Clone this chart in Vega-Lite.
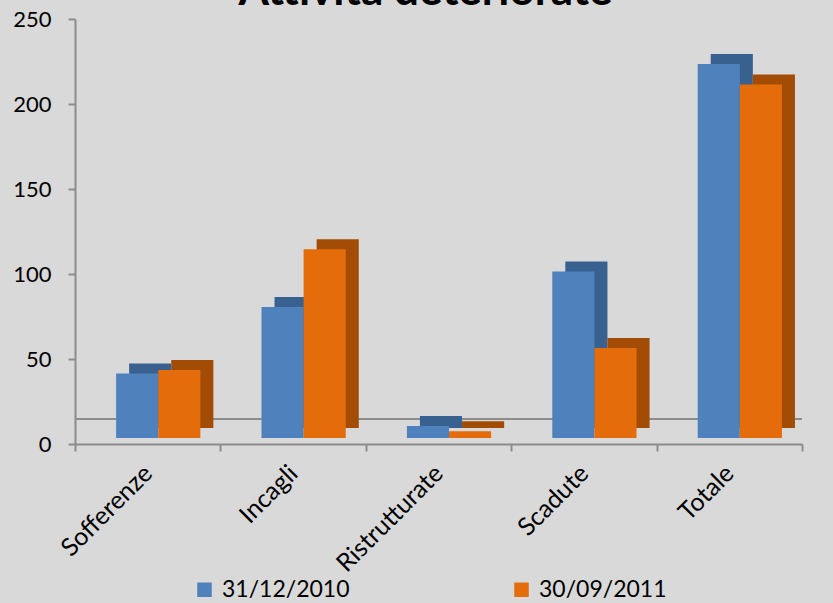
{
  "$schema": "https://vega.github.io/schema/vega-lite/v6.json",
  "width": 727,
  "height": 425,
  "autosize": "none",
  "padding": {"left": 75, "top": 19, "right": 31, "bottom": 159},
  "background": "#D9D9D9",
  "config": {"view": {"stroke": null}, "font": "Lato"},
  "data": {"values": [
    {"categoria": "Sofferenze", "serie": "31/12/2010", "valore": 38},
    {"categoria": "Sofferenze", "serie": "30/09/2011", "valore": 40},
    {"categoria": "Incagli", "serie": "31/12/2010", "valore": 77},
    {"categoria": "Incagli", "serie": "30/09/2011", "valore": 111},
    {"categoria": "Ristrutturate", "serie": "31/12/2010", "valore": 7},
    {"categoria": "Ristrutturate", "serie": "30/09/2011", "valore": 4},
    {"categoria": "Scadute", "serie": "31/12/2010", "valore": 98},
    {"categoria": "Scadute", "serie": "30/09/2011", "valore": 53},
    {"categoria": "Totale", "serie": "31/12/2010", "valore": 220},
    {"categoria": "Totale", "serie": "30/09/2011", "valore": 208}
  ]},
  "layer": [
    {
      "data": {"values": [{"v": 0}]},
      "mark": {"type": "rule", "yOffset": -25, "color": "#8C8C8C", "strokeWidth": 2},
      "encoding": {"y": {"field": "v", "type": "quantitative", "scale": {"domain": [0, 250], "nice": false}}}
    },
    {
      "mark": {"type": "bar", "yOffset": -16},
      "encoding": {
        "x": {"field": "categoria", "type": "nominal", "sort": null, "scale": {"paddingInner": 0, "paddingOuter": 0}},
        "xOffset": {"field": "serie", "sort": null, "scale": {"paddingInner": 0, "paddingOuter": 0.726, "align": 0.885}},
        "y": {"field": "valore", "type": "quantitative", "scale": {"domain": [0, 250], "nice": false}},
        "color": {"field": "serie", "type": "nominal", "sort": null, "scale": {"range": ["#38618F", "#A34C05"]}, "legend": null}
      }
    },
    {
      "mark": {"type": "bar", "yOffset": -6},
      "encoding": {
        "x": {
          "field": "categoria", "type": "nominal", "sort": null,
          "scale": {"paddingInner": 0, "paddingOuter": 0},
          "axis": {"title": null, "labelAngle": -45, "labelAlign": "right", "labelBaseline": "middle", "labelFontSize": 25, "labelColor": "#000000", "domainColor": "#8C8C8C", "domainWidth": 2, "tickColor": "#8C8C8C", "tickWidth": 2, "tickSize": 7, "tickBand": "extent", "labelPadding": 18}
        },
        "xOffset": {"field": "serie", "sort": null, "scale": {"paddingInner": 0, "paddingOuter": 0.726, "align": 0.672}},
        "y": {
          "field": "valore", "type": "quantitative",
          "scale": {"domain": [0, 250], "nice": false},
          "axis": {"title": null, "values": [0, 50, 100, 150, 200, 250], "labelFontSize": 22, "labelColor": "#000000", "domainColor": "#8C8C8C", "domainWidth": 2, "tickColor": "#8C8C8C", "tickWidth": 2, "tickSize": 7, "labelPadding": 17, "grid": false}
        },
        "color": {
          "field": "serie", "type": "nominal", "sort": null,
          "scale": {"range": ["#4F81BD", "#E46C0A"]},
          "legend": {"title": null, "orient": "none", "legendX": 118, "legendY": 559, "direction": "horizontal", "symbolType": "square", "symbolSize": 210, "symbolStrokeWidth": 0, "labelFontSize": 23, "labelColor": "#000000", "columnPadding": 160, "labelOffset": 6}
        }
      }
    },
    {
      "data": {"values": [{"titolo": "Attività deteriorate", "cat": "Ristrutturate", "pos": 258}]},
      "mark": {"type": "text", "font": "Lato", "fontSize": 44, "fontWeight": "bold", "color": "#000000", "baseline": "alphabetic", "align": "center", "dx": -13},
      "encoding": {
        "text": {"field": "titolo"},
        "x": {"field": "cat", "type": "nominal", "sort": null},
        "y": {"field": "pos", "type": "quantitative", "scale": {"domain": [0, 250], "nice": false}}
      }
    }
  ],
  "resolve": {"scale": {"color": "independent", "xOffset": "independent"}}
}
